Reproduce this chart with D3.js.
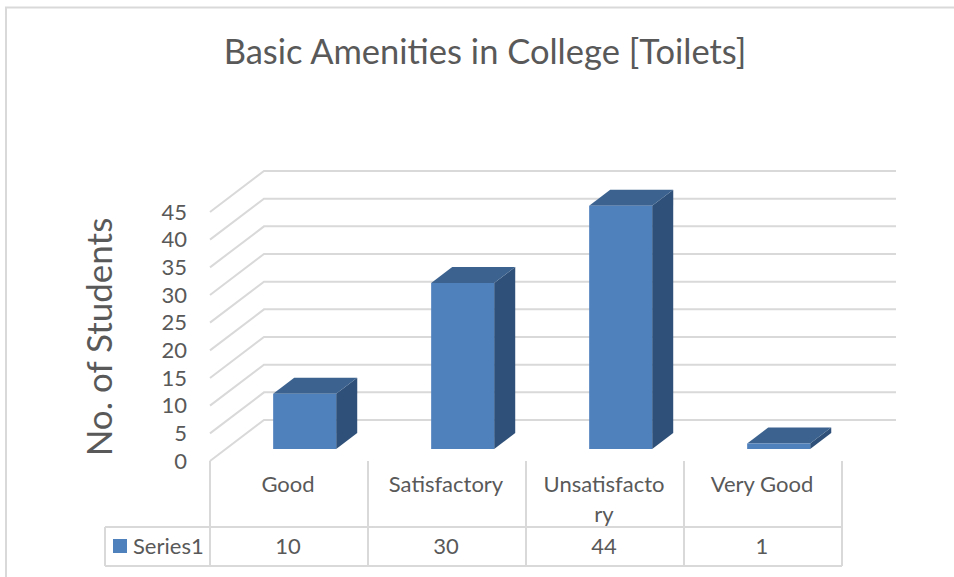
<!DOCTYPE html>
<html>
<head>
<meta charset="utf-8">
<script src="https://cdnjs.cloudflare.com/ajax/libs/d3/7.8.5/d3.min.js"></script>
<style>
html, body { margin: 0; padding: 0; background: #fff; }
svg { display: block; }
text { font-family: Lato, "Open Sans", sans-serif; fill: #595959; }
</style>
</head>
<body>
<div id="chart"></div>
<script>
var categories = ['Good', 'Satisfactory', 'Unsatisfactory', 'Very Good'];
var categoryLines = [['Good'], ['Satisfactory'], ['Unsatisfacto', 'ry'], ['Very Good']];
var values = [10, 30, 44, 1];
var yTicks = [0, 5, 10, 15, 20, 25, 30, 35, 40, 45];
var seriesName = 'Series1';
var chartTitle = 'Basic Amenities in College [Toilets]';
var yTitle = 'No. of Students';

var width = 954, height = 577;

var svg = d3.select('#chart').append('svg')
    .attr('width', width)
    .attr('height', height);

var x = d3.scaleBand()
    .domain(categories)
    .range([210, 842]);

var y = d3.scaleLinear()
    .domain([0, 45])
    .range([461, 212]);

// depth of the 3d floor: 0 is the front edge, 1 the back wall
var depthX = 54, depthY = -41;
var barWidth = 63, barFront = 0.29, barBack = 0.68;

function point (px, py, depth) {
    return [px + depthX * depth, py + depthY * depth];
}

var poly = d3.line();

// chart frame, the screenshot cuts it off on the right and at the bottom
svg.append('path')
    .attr('d', 'M6,577V7.5H954')
    .attr('fill', 'none')
    .attr('stroke', '#d9d9d9')
    .attr('stroke-width', 2);

// gridlines, side wall then back wall
svg.append('g').selectAll('path')
    .data(yTicks)
    .enter().append('path')
    .attr('fill', 'none')
    .attr('stroke', '#d9d9d9')
    .attr('stroke-width', 2)
    .attr('d', function (d) {
        return poly([
            point(x.range()[0], y(d), 0),
            point(x.range()[0], y(d), 1),
            point(x.range()[1], y(d), 1)
        ]);
    });

// bars
var bars = svg.append('g').selectAll('g')
    .data(categories)
    .enter().append('g');

function barEdges (d, i) {
    var mid = x(d) + x.bandwidth() / 2;
    return {
        l: mid - barWidth / 2,
        r: mid + barWidth / 2,
        base: y(0),
        top: y(values[i])
    };
}

bars.append('path')
    .attr('fill', '#2f5078')
    .attr('d', function (d, i) {
        var e = barEdges(d, i);
        return poly([
            point(e.r, e.base, barFront), point(e.r, e.base, barBack),
            point(e.r, e.top, barBack), point(e.r, e.top, barFront)
        ]) + 'Z';
    });

bars.append('path')
    .attr('fill', '#3c638f')
    .attr('d', function (d, i) {
        var e = barEdges(d, i);
        return poly([
            point(e.l, e.top, barFront), point(e.l, e.top, barBack),
            point(e.r, e.top, barBack), point(e.r, e.top, barFront)
        ]) + 'Z';
    });

bars.append('path')
    .attr('fill', '#4f81bd')
    .attr('d', function (d, i) {
        var e = barEdges(d, i);
        return poly([
            point(e.l, e.base, barFront), point(e.r, e.base, barFront),
            point(e.r, e.top, barFront), point(e.l, e.top, barFront)
        ]) + 'Z';
    });

// y axis labels
var yAxis = d3.axisLeft(y)
    .tickValues(yTicks)
    .tickSize(0)
    .tickPadding(0);

var yG = svg.append('g')
    .attr('transform', 'translate(187,0)')
    .call(yAxis);

yG.select('.domain').remove();
yG.selectAll('text')
    .style('font-size', '22px')
    .attr('dy', '0.33em');

// data table under the plot
var tableTop = 527, tableBottom = 566, tableLeft = 105;

var tableLines = svg.append('g')
    .attr('fill', 'none')
    .attr('stroke', '#d9d9d9')
    .attr('stroke-width', 2);

var cuts = categories.map(function (d) { return x(d); }).concat(x.range()[1]);

tableLines.selectAll('.col')
    .data(cuts)
    .enter().append('path')
    .attr('class', 'col')
    .attr('d', function (d) {
        return poly([[d, y(0)], [d, tableBottom]]);
    });

tableLines.append('path')
    .attr('d', poly([[tableLeft, tableTop], [x.range()[1], tableTop]]));
tableLines.append('path')
    .attr('d', poly([[tableLeft, tableBottom], [x.range()[1], tableBottom]]));
tableLines.append('path')
    .attr('d', poly([[tableLeft, tableTop], [tableLeft, tableBottom]]));

var catLabels = svg.append('g').selectAll('text')
    .data(categories)
    .enter().append('text')
    .attr('text-anchor', 'middle')
    .style('font-size', '22px')
    .attr('transform', function (d) {
        return 'translate(' + (x(d) + x.bandwidth() / 2 - 1) + ',0)';
    });

catLabels.selectAll('tspan')
    .data(function (d, i) { return categoryLines[i]; })
    .enter().append('tspan')
    .attr('x', 0)
    .attr('y', function (d, i) { return 492 + i * 30; })
    .text(function (d) { return d; });

svg.append('g').selectAll('text')
    .data(categories)
    .enter().append('text')
    .attr('text-anchor', 'middle')
    .attr('x', function (d) { return x(d) + x.bandwidth() / 2 - 1; })
    .attr('y', 554)
    .style('font-size', '22px')
    .text(function (d, i) { return values[i]; });

// legend key
svg.append('rect')
    .attr('x', 113)
    .attr('y', 539)
    .attr('width', 14)
    .attr('height', 14)
    .attr('fill', '#4f81bd');

svg.append('text')
    .attr('x', 133)
    .attr('y', 554)
    .style('font-size', '22px')
    .text(seriesName);

// titles
svg.append('text')
    .attr('x', 485)
    .attr('y', 64)
    .attr('text-anchor', 'middle')
    .style('font-size', '34.5px')
    .text(chartTitle);

svg.append('text')
    .attr('transform', 'translate(112,337) rotate(-90)')
    .attr('text-anchor', 'middle')
    .style('font-size', '35px')
    .text(yTitle);
</script>
</body>
</html>
